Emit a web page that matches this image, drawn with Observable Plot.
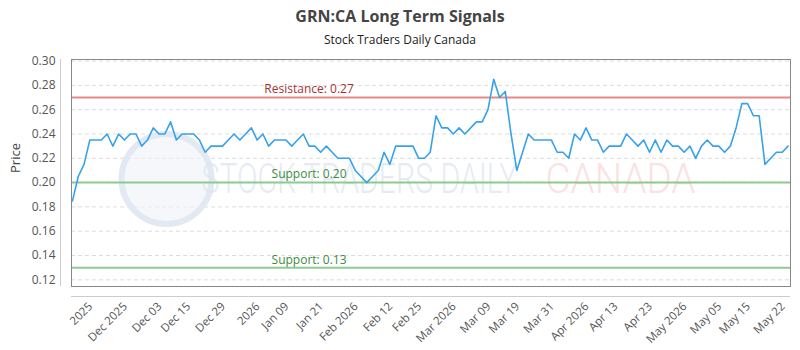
<!DOCTYPE html>
<html><head><meta charset="utf-8">
<script src="https://cdn.jsdelivr.net/npm/d3@7"></script>
<script src="https://cdn.jsdelivr.net/npm/@observablehq/plot@0.6"></script>
<style>
body{margin:0;background:#fff;font-family:"Open Sans",sans-serif;}
#wrap{position:relative;width:800px;height:350px;overflow:hidden;}
#title{position:absolute;top:5px;left:0;width:800px;text-align:center;font-size:16px;font-weight:bold;line-height:22px;color:#444;}
#sub{position:absolute;top:32px;left:0;width:800px;text-align:center;font-size:12px;line-height:16px;color:#222;}
#chart{position:absolute;top:50px;left:0;}
</style></head>
<body><div id="wrap">
<div id="title">GRN:CA Long Term Signals</div>
<div id="sub">Stock Traders Daily Canada</div>
<div id="chart"></div>
</div>
<script>
const prices = [0.185,0.205,0.215,0.235,0.235,0.235,0.24,0.23,0.24,0.235,
0.24,0.24,0.23,0.235,0.245,0.24,0.24,0.25,0.235,0.24,
0.24,0.24,0.235,0.225,0.23,0.23,0.23,0.235,0.24,0.235,
0.24,0.245,0.235,0.24,0.23,0.235,0.235,0.235,0.23,0.235,
0.24,0.23,0.23,0.225,0.23,0.225,0.22,0.22,0.22,0.21,
0.205,0.20,0.205,0.21,0.225,0.215,0.23,0.23,0.23,0.23,
0.22,0.22,0.225,0.255,0.245,0.245,0.24,0.245,0.24,0.245,
0.25,0.25,0.26,0.285,0.27,0.275,0.24,0.21,0.225,0.24,
0.235,0.235,0.235,0.235,0.225,0.225,0.22,0.24,0.235,0.245,
0.235,0.235,0.225,0.23,0.23,0.23,0.24,0.235,0.23,0.235,
0.225,0.235,0.225,0.235,0.23,0.23,0.225,0.23,0.22,0.23,
0.235,0.23,0.23,0.225,0.23,0.245,0.265,0.265,0.255,0.255,
0.215,0.22,0.225,0.225,0.23];
const tickLabels = ["2025","Dec 2025","Dec 03","Dec 15","Dec 29","2026","Jan 09","Jan 21","Feb 2026","Feb 12","Feb 25","Mar 2026","Mar 09","Mar 19","Mar 31","Apr 2026","Apr 13","Apr 23","May 2026","May 05","May 15","May 22"];
const tickIndex = [4,10,16,21,27,33,38,44,50,56,61,67,73,78,84,90,95,101,107,113,118,124];
const yTicks = [0.12,0.14,0.16,0.18,0.20,0.22,0.24,0.26,0.28,0.30];
const resistance = [0.27];
const supports = [0.20,0.13];
const levelLabelIndex = 41;
const watermarkA = "STOCK TRADERS DAILY";
const watermarkB = "CANADA";

const data = prices.map((p,i)=>({i, p}));
const labelMap = new Map(tickIndex.map((t,k)=>[t,tickLabels[k]]));
const xDom = [-0.17, 124.43];
const yDom = [0.1145, 0.3013];

const chart = Plot.plot({
  width: 800, height: 300,
  marginTop: 9, marginBottom: 64, marginLeft: 71, marginRight: 10,
  style: {fontFamily: "Open Sans", background: "#fff"},
  x: {domain: xDom, axis: null},
  y: {domain: yDom, axis: null},
  marks: [
    Plot.gridY(yTicks, {stroke: "#dcdcdc", strokeOpacity: 1, strokeDasharray: "4,3"}),
    Plot.dot([0], {frameAnchor: "left", dx: 95, dy: 6, r: 45, stroke: "#e3e9f2", strokeWidth: 6, fill: "#eef2f8", fillOpacity: 0.6}),
    Plot.text([watermarkA], {frameAnchor: "left", dx: 130, dy: 6, textAnchor: "start", fontSize: 28, fontFamily: "Roboto", fontWeight: 300, fill: "#dfe6f0", fillOpacity: 0.8}),
    Plot.text([watermarkB], {frameAnchor: "left", dx: 474, dy: 6, textAnchor: "start", fontSize: 28, fontFamily: "Roboto", fontWeight: 300, fill: "#fbd9d9", fillOpacity: 0.8}),
    Plot.ruleY(resistance, {stroke: "#e57373", strokeOpacity: 0.85, strokeWidth: 2}),
    Plot.ruleY(supports, {stroke: "#81c784", strokeOpacity: 0.9, strokeWidth: 2}),
    Plot.text(resistance, {x: levelLabelIndex, y: d => d, text: d => `Resistance: ${d3.format(".2f")(d)}`, dy: -8, fill: "#a83232", fontSize: 12}),
    Plot.text(supports, {x: levelLabelIndex, y: d => d, text: d => `Support: ${d3.format(".2f")(d)}`, dy: -8, fill: "#3d8b3d", fontSize: 12}),
    Plot.line(data, {x: "i", y: "p", stroke: "#36a2eb", strokeWidth: 1.6}),
    Plot.frame({stroke: "#888"}),
    Plot.ruleX([xDom[0]], {dx: -11, stroke: "#ccc"}),
    Plot.ruleY([yDom[0]], {dy: 10, stroke: "#ccc"}),
    Plot.axisY(yTicks, {tickSize: 0, tickPadding: 16, tickFormat: d3.format(".2f"), fontSize: 12, fill: "#555", label: null}),
    Plot.axisX(tickIndex, {tickSize: 0, tickPadding: 18, dx: -5, tickRotate: -45, tickFormat: d => labelMap.get(d), fontSize: 11.5, fill: "#555", label: null}),
    Plot.text(["Price"], {frameAnchor: "left", dx: -56, rotate: -90, fontSize: 13, fill: "#444"})
  ]
});
document.getElementById("chart").appendChild(chart);
const wmWidths = new Map([[watermarkA, 316], [watermarkB, 150]]);
chart.querySelectorAll("text").forEach(t => {
  const w = wmWidths.get(t.textContent);
  if (w) {
    const len = t.getComputedTextLength();
    const tr = t.getAttribute("transform") || "";
    t.setAttribute("transform", `${tr} scale(${w / len},1.55)`);
  }
});
</script>
</body></html>
